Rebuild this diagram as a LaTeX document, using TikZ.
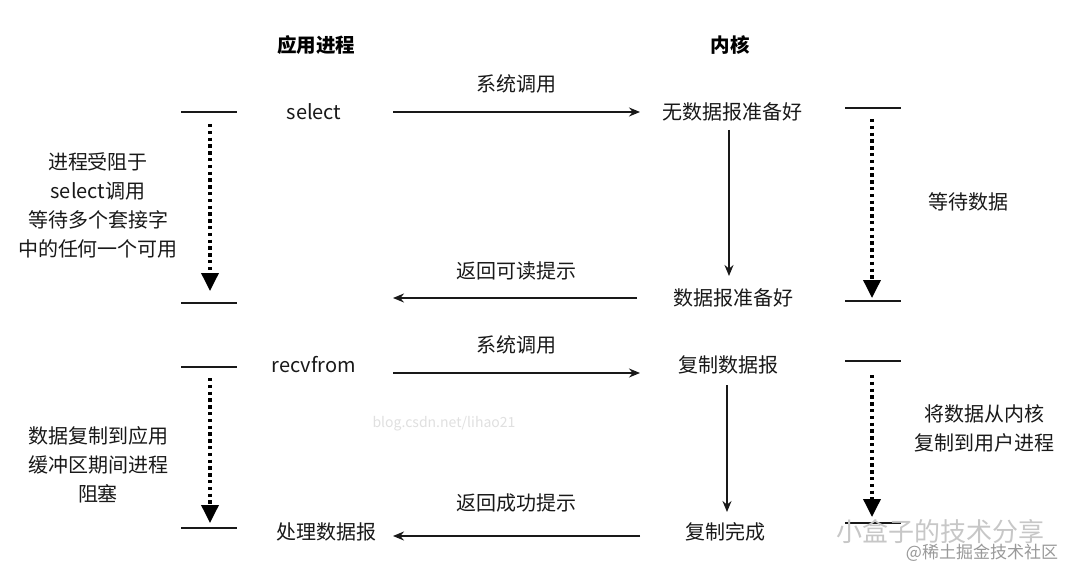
\documentclass[tikz,border=0pt]{standalone}
\usepackage{fontspec}
\setmainfont{Noto Sans CJK SC}
\usetikzlibrary{arrows.meta}
\begin{document}
\begin{tikzpicture}[x=1pt,y=-1pt,
  txt/.style={font=\fontsize{20}{29}\selectfont, inner sep=0pt, text=black!90, align=center},
  head/.style={font=\fontsize{19.5}{22}\selectfont\bfseries, inner sep=0pt, text=black},
  bar/.style={line width=1.8pt, black!90},
  msg/.style={line width=1.6pt, black!90, -{Stealth[length=11pt,width=9pt]}},
  wait/.style={line width=3.6pt, dash pattern=on 3.4pt off 3.4pt, black, -{Triangle[length=18pt,width=17pt]}, shorten >=-1pt},
  blogmark/.style={font=\fontsize{14}{16}\selectfont, text=black!12, inner sep=0pt},
  wmbig/.style={font=\fontsize{26}{30}\selectfont, text=black!22, inner sep=0pt},
  wmsmall/.style={font=\fontsize{17}{20}\selectfont, text=black!40, inner sep=0pt}]
\useasboundingbox (0,0) rectangle (1080,583);
\fill[white] (0,0) rectangle (1080,583);

% headers
\node[head] (app) at (316,45) {应用进程};
\node[head] (kern) at (730,45) {内核};

% left bars
\coordinate (l1a) at (181,112); \coordinate (l1b) at (237,112);
\coordinate (l2a) at (181,303); \coordinate (l2b) at (237,303);
\coordinate (l3a) at (181,367); \coordinate (l3b) at (237,367);
\coordinate (l4a) at (181,528); \coordinate (l4b) at (237,528);
\draw[bar] (l1a) -- (l1b);
\draw[bar] (l2a) -- (l2b);
\draw[bar] (l3a) -- (l3b);
\draw[bar] (l4a) -- (l4b);

% right bars
\coordinate (r1a) at (845,108); \coordinate (r1b) at (901,108);
\coordinate (r2a) at (845,301); \coordinate (r2b) at (901,301);
\coordinate (r3a) at (845,361); \coordinate (r3b) at (901,361);
\coordinate (r4a) at (845,523); \coordinate (r4b) at (901,523);
\draw[bar] (r1a) -- (r1b);
\draw[bar] (r2a) -- (r2b);
\draw[bar] (r3a) -- (r3b);
\draw[bar] (r4a) -- (r4b);

% dotted waiting arrows
\coordinate (lw1s) at (210,124); \coordinate (lw1e) at (210,290);
\coordinate (lw2s) at (210,378); \coordinate (lw2e) at (210,522);
\coordinate (rw1s) at (872,119); \coordinate (rw1e) at (872,297);
\coordinate (rw2s) at (872,375); \coordinate (rw2e) at (872,516);
\draw[wait] (lw1s) -- (lw1e);
\draw[wait] (lw2s) -- (lw2e);
\draw[wait] (rw1s) -- (rw1e);
\draw[wait] (rw2s) -- (rw2e);

% process column texts
\node[txt] (sel) at (314,112) {select};
\node[txt] (recv) at (314,365) {recvfrom};
\node[txt] (proc) at (326,532) {处理数据报};

% kernel column texts
\node[txt] (k1) at (732,112) {无数据报准备好};
\node[txt] (k2) at (733,298) {数据报准备好};
\node[txt] (k3) at (728,365) {复制数据报};
\node[txt] (k4) at (725,532) {复制完成};

% message arrows
\coordinate (m1s) at (393,112); \coordinate (m1e) at (640,112);
\coordinate (m2s) at (637,298); \coordinate (m2e) at (393,298);
\coordinate (m3s) at (393,373); \coordinate (m3e) at (640,373);
\coordinate (m4s) at (640,536); \coordinate (m4e) at (393,536);
\draw[msg] (m1s) -- (m1e);
\draw[msg] (m2s) -- (m2e);
\draw[msg] (m3s) -- (m3e);
\draw[msg] (m4s) -- (m4e);
\node[txt] (lab1) at (516,84) {系统调用};
\node[txt] (lab2) at (516,271) {返回可读提示};
\node[txt] (lab3) at (516,345) {系统调用};
\node[txt] (lab4) at (516,503) {返回成功提示};

% kernel vertical arrows
\coordinate (v1s) at (729,130); \coordinate (v1e) at (729,276);
\coordinate (v2s) at (727,385); \coordinate (v2e) at (727,512);
\draw[msg] (v1s) -- (v1e);
\draw[msg] (v2s) -- (v2e);

% side descriptions
\node[txt] (d1) at (98,205) {进程受阻于\\select调用\\等待多个套接字\\中的任何一个可用};
\node[txt] (d2) at (98,465) {数据复制到应用\\缓冲区期间进程\\阻塞};
\node[txt] (d3) at (968,202) {等待数据};
\node[txt] (d4) at (984,428) {将数据从内核\\复制到用户进程};

% watermarks
\node[blogmark] (wm0) at (444,424) {blog.csdn.net/lihao21};
\node[wmbig] (wm1) at (940,532) {小盒子的技术分享};
\node[wmsmall] (wm2) at (982,553) {@稀土掘金技术社区};
\end{tikzpicture}
\end{document}
